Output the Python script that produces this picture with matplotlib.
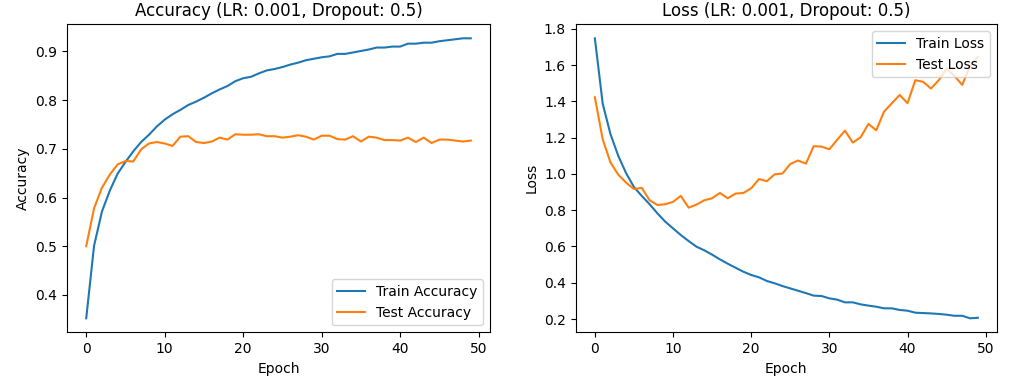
import matplotlib
matplotlib.use("Agg")
import matplotlib.pyplot as plt

epochs = list(range(50))

train_acc = [0.352, 0.501, 0.571, 0.614, 0.649, 0.673, 0.695, 0.714, 0.729, 0.746,
             0.760, 0.771, 0.780, 0.790, 0.797, 0.805, 0.814, 0.822, 0.829, 0.839,
             0.845, 0.848, 0.855, 0.861, 0.864, 0.868, 0.873, 0.877, 0.882, 0.885,
             0.888, 0.890, 0.895, 0.895, 0.898, 0.901, 0.904, 0.908, 0.908, 0.910,
             0.910, 0.916, 0.916, 0.918, 0.918, 0.921, 0.923, 0.925, 0.927, 0.927]

test_acc = [0.500, 0.578, 0.620, 0.647, 0.668, 0.675, 0.674, 0.699, 0.711, 0.714,
            0.711, 0.706, 0.725, 0.726, 0.714, 0.712, 0.715, 0.723, 0.719, 0.730,
            0.729, 0.729, 0.730, 0.726, 0.726, 0.723, 0.725, 0.728, 0.725, 0.719,
            0.727, 0.727, 0.720, 0.719, 0.726, 0.715, 0.725, 0.723, 0.718, 0.718,
            0.717, 0.723, 0.714, 0.723, 0.712, 0.719, 0.719, 0.717, 0.715, 0.717]

train_loss = [1.748, 1.388, 1.219, 1.099, 1.004, 0.928, 0.879, 0.833, 0.783, 0.737,
              0.700, 0.663, 0.630, 0.599, 0.579, 0.555, 0.529, 0.505, 0.483, 0.461,
              0.443, 0.430, 0.410, 0.397, 0.382, 0.369, 0.356, 0.343, 0.329, 0.327,
              0.314, 0.307, 0.292, 0.292, 0.281, 0.274, 0.268, 0.259, 0.259, 0.250,
              0.246, 0.235, 0.233, 0.231, 0.228, 0.224, 0.218, 0.218, 0.204, 0.207]

test_loss = [1.423, 1.191, 1.063, 0.996, 0.952, 0.917, 0.923, 0.855, 0.829, 0.833,
             0.846, 0.879, 0.814, 0.831, 0.855, 0.866, 0.895, 0.866, 0.892, 0.895,
             0.921, 0.972, 0.960, 0.998, 1.002, 1.055, 1.074, 1.057, 1.153, 1.151,
             1.136, 1.188, 1.239, 1.173, 1.202, 1.276, 1.241, 1.344, 1.390, 1.436,
             1.390, 1.517, 1.508, 1.471, 1.517, 1.581, 1.541, 1.491, 1.596, 1.646]

fig = plt.figure(figsize=(10.29, 3.84), dpi=100)
ax1 = fig.add_axes([0.0651, 0.1346, 0.4111, 0.8021])
ax2 = fig.add_axes([0.5595, 0.1346, 0.4094, 0.8021])

ax1.plot(epochs, train_acc, label="Train Accuracy")
ax1.plot(epochs, test_acc, label="Test Accuracy")
ax1.set_title("Accuracy (LR: 0.001, Dropout: 0.5)")
ax1.set_xlabel("Epoch")
ax1.set_ylabel("Accuracy")
ax1.legend(loc="lower right")

ax2.plot(epochs, train_loss, label="Train Loss")
ax2.plot(epochs, test_loss, label="Test Loss")
ax2.set_title("Loss (LR: 0.001, Dropout: 0.5)")
ax2.set_xlabel("Epoch")
ax2.set_ylabel("Loss")
ax2.legend(loc="upper right")

fig.savefig("out.png", dpi=100)
